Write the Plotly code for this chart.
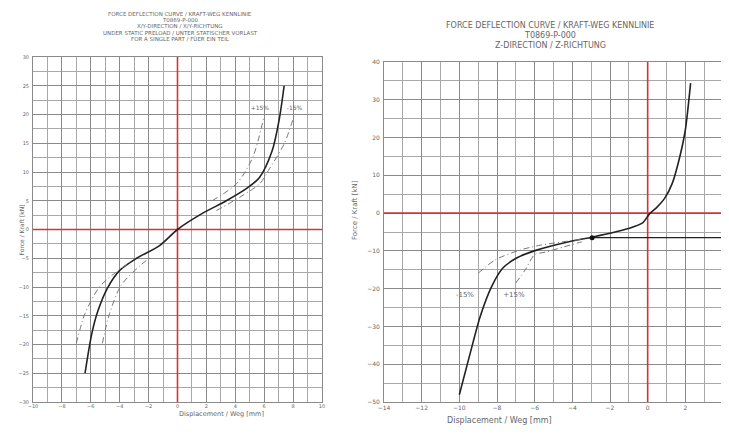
import plotly.graph_objects as go

# page body has an 8px margin; the figure is sized and placed to compensate
OFF = 8
W, H = 729 - OFF, 434 - OFF

# ---------------- Left chart data (X/Y direction) ----------------
left_main_x = [-6.4, -5.93, -5.5, -4.83, -4.0, -2.83, -1.24, 0.0, 1.72, 3.38, 4.76, 5.66, 6.55, 7.03, 7.38]
left_main_y = [-25.0, -18.1, -14.1, -10.1, -7.1, -5.0, -2.8, 0.0, 2.8, 5.0, 7.1, 9.0, 13.7, 19.0, 25.0]

left_plus_up_x = [2.4, 4.1, 5.2, 6.0]
left_plus_up_y = [5.0, 8.0, 12.5, 19.8]
left_minus_up_x = [2.7, 4.3, 5.7, 6.3, 7.4, 8.07]
left_minus_up_y = [3.3, 5.6, 8.0, 10.3, 15.0, 19.8]
left_minus_lo_x = [-7.0, -6.4, -5.4, -4.3, -3.1]
left_minus_lo_y = [-19.8, -14.6, -10.0, -7.5, -5.4]
left_plus_lo_x = [-5.2, -4.7, -3.9, -2.6, -1.9]
left_plus_lo_y = [-19.8, -14.6, -9.7, -6.3, -4.9]

left_x_ticks = [-10, -8, -6, -4, -2, 0, 2, 4, 6, 8, 10]
left_y_ticks = [-30, -25, -20, -15, -10, -5, 0, 5, 10, 15, 20, 25, 30]
left_labels = ["+15%", "-15%"]
left_label_x = [5.7, 8.1]
left_label_y = [21.0, 21.0]

# ---------------- Right chart data (Z direction) ----------------
right_main_x = [-10.0, -9.45, -8.9, -8.3, -7.7, -6.96, -5.9, -4.3, -2.9, -0.96, -0.27, 0.1, 0.5, 0.9, 1.3, 1.7, 2.0, 2.28]
right_main_y = [-48.1, -37.6, -27.5, -19.6, -14.6, -11.9, -9.8, -7.7, -6.3, -4.0, -2.6, -0.2, 1.6, 3.9, 7.8, 14.8, 22.0, 34.4]

right_minus_x = [-9.0, -8.1, -6.8, -5.7, -4.5, -3.3]
right_minus_y = [-15.9, -12.4, -9.8, -8.5, -7.6, -6.8]
right_plus_x = [-7.0, -6.5, -6.0, -5.4, -4.5, -3.5]
right_plus_y = [-18.5, -15.0, -11.0, -10.3, -9.0, -7.6]

right_preload_x = [-2.95, 4.0]
right_preload_y = [-6.5, -6.5]

right_x_ticks = [-14, -12, -10, -8, -6, -4, -2, 0, 2, 4]
right_y_ticks = [-50, -40, -30, -20, -10, 0, 10, 20, 30, 40]
right_labels = ["-15%", "+15%"]
right_label_x = [-9.7, -7.1]
right_label_y = [-21.7, -21.7]

left_title = ["FORCE DEFLECTION CURVE / KRAFT-WEG KENNLINIE", "T0869-P-000",
              "X/Y-DIRECTION / X/Y-RICHTUNG", "UNDER STATIC PRELOAD / UNTER STATISCHER VORLAST",
              "FOR A SINGLE PART / FÜER EIN TEIL"]
right_title = ["FORCE DEFLECTION CURVE / KRAFT-WEG KENNLINIE", "T0869-P-000",
               "Z-DIRECTION / Z-RICHTUNG"]

RED = "#d3343a"
GRID = "#8a8a8a"
TXT = "#666666"
FONT = "DejaVu Sans"
DASH = "6px,3px,1px,3px"

fig = go.Figure()

def line(x, y, xa, ya, color="#222222", width=1.6, dash=None, smooth=0.8):
    fig.add_trace(go.Scatter(x=x, y=y, xaxis=xa, yaxis=ya, mode="lines",
                             line=dict(color=color, width=width, dash=dash,
                                       shape="spline", smoothing=smooth),
                             showlegend=False, hoverinfo="skip"))

# red zero lines
for xa, ya, xr, yr in [("x", "y", (-10, 10), (-30, 30)), ("x2", "y2", (-14, 4), (-50, 40))]:
    fig.add_trace(go.Scatter(x=[0, 0], y=list(yr), xaxis=xa, yaxis=ya, mode="lines",
                             line=dict(color=RED, width=1.6), showlegend=False, hoverinfo="skip"))
    fig.add_trace(go.Scatter(x=list(xr), y=[0, 0], xaxis=xa, yaxis=ya, mode="lines",
                             line=dict(color=RED, width=1.6), showlegend=False, hoverinfo="skip"))

# left curves
line(left_main_x, left_main_y, "x", "y")
line(left_plus_up_x, left_plus_up_y, "x", "y", color="#777777", width=1, dash=DASH)
line(left_minus_up_x, left_minus_up_y, "x", "y", color="#777777", width=1, dash=DASH)
line(left_minus_lo_x, left_minus_lo_y, "x", "y", color="#777777", width=1, dash=DASH)
line(left_plus_lo_x, left_plus_lo_y, "x", "y", color="#777777", width=1, dash=DASH)
fig.add_trace(go.Scatter(x=left_label_x, y=left_label_y, xaxis="x", yaxis="y", mode="text",
                         text=left_labels, textfont=dict(size=6, color=TXT, family=FONT),
                         showlegend=False, hoverinfo="skip"))

# right curves
line(right_main_x, right_main_y, "x2", "y2", smooth=0.7)
line(right_minus_x, right_minus_y, "x2", "y2", color="#777777", width=1, dash=DASH)
line(right_plus_x, right_plus_y, "x2", "y2", color="#777777", width=1, dash=DASH)
fig.add_trace(go.Scatter(x=right_preload_x, y=right_preload_y, xaxis="x2", yaxis="y2", mode="lines",
                         line=dict(color="#222222", width=1.2), showlegend=False, hoverinfo="skip"))
fig.add_trace(go.Scatter(x=right_preload_x[:1], y=right_preload_y[:1], xaxis="x2", yaxis="y2",
                         mode="markers", marker=dict(color="#111111", size=5),
                         showlegend=False, hoverinfo="skip"))
fig.add_trace(go.Scatter(x=right_label_x, y=right_label_y, xaxis="x2", yaxis="y2", mode="text",
                         text=right_labels, textfont=dict(size=7, color=TXT, family=FONT),
                         showlegend=False, hoverinfo="skip"))

def px(x):
    return (x - OFF) / W

def py(y):
    return 1 - (y - OFF) / H

axis_common = dict(showgrid=True, gridcolor=GRID, gridwidth=1, zeroline=False,
                   showline=True, linecolor=GRID, linewidth=1, mirror=True,
                   ticks="", ticklen=0,
                   fixedrange=True, automargin=False)

fig.update_layout(
    width=W, height=H, margin=dict(l=0, r=0, t=0, b=0, autoexpand=False),
    paper_bgcolor="white", plot_bgcolor="white",
    xaxis=dict(domain=[px(33), px(322)], range=[-10, 10], tickvals=left_x_ticks,
               minor=dict(dtick=1, showgrid=True, gridcolor="#a8a8a8", gridwidth=1),
               ticklabelstandoff=-1,
               tickfont=dict(size=5, color=TXT, family=FONT), anchor="y", **axis_common),
    yaxis=dict(domain=[py(402), py(57)], range=[-30, 30], tickvals=left_y_ticks,
               minor=dict(dtick=2.5, showgrid=True, gridcolor="#a8a8a8", gridwidth=1),
               ticklabelstandoff=2,
               tickfont=dict(size=5, color=TXT, family=FONT), anchor="x", **axis_common),
    xaxis2=dict(domain=[px(384), px(723)], range=[-14, 4], tickvals=right_x_ticks,
                minor=dict(dtick=1, showgrid=True, gridcolor="#a8a8a8", gridwidth=1),
                ticklabelstandoff=0,
                tickfont=dict(size=6, color=TXT, family=FONT), anchor="y2", **axis_common),
    yaxis2=dict(domain=[py(402), py(62)], range=[-50, 40], tickvals=right_y_ticks,
                minor=dict(dtick=5, showgrid=True, gridcolor="#a8a8a8", gridwidth=1),
                ticklabelstandoff=2,
                tickfont=dict(size=6, color=TXT, family=FONT), anchor="x2", **axis_common),
)

ann = []
for i, t in enumerate(left_title):
    ann.append(dict(text=t, x=px(180), y=py(14 + 6.2 * i), xref="paper", yref="paper",
                    showarrow=False, font=dict(size=5.5, color=TXT, family=FONT),
                    xanchor="center", yanchor="middle"))
for i, t in enumerate(right_title):
    ann.append(dict(text=t, x=px(550), y=py(25 + 10 * i), xref="paper", yref="paper",
                    showarrow=False, font=dict(size=8, color=TXT, family=FONT),
                    xanchor="center", yanchor="middle"))
ann.append(dict(text="Displacement / Weg [mm]", x=px(177), y=py(420), xref="paper", yref="paper",
                showarrow=False, font=dict(size=6.5, color=TXT, family=FONT)))
ann.append(dict(text="Displacement / Weg [mm]", x=px(554), y=py(427), xref="paper", yref="paper",
                showarrow=False, font=dict(size=8, color=TXT, family=FONT)))
ann.append(dict(text="Force / Kraft [kN]", x=px(15), y=py(230), xref="paper", yref="paper",
                showarrow=False, textangle=-90, font=dict(size=6, color=TXT, family=FONT)))
ann.append(dict(text="Force / Kraft [kN]", x=px(355), y=py(210), xref="paper", yref="paper",
                showarrow=False, textangle=-90, font=dict(size=7, color=TXT, family=FONT)))
fig.update_layout(annotations=ann)

fig.write_html("out.html")
